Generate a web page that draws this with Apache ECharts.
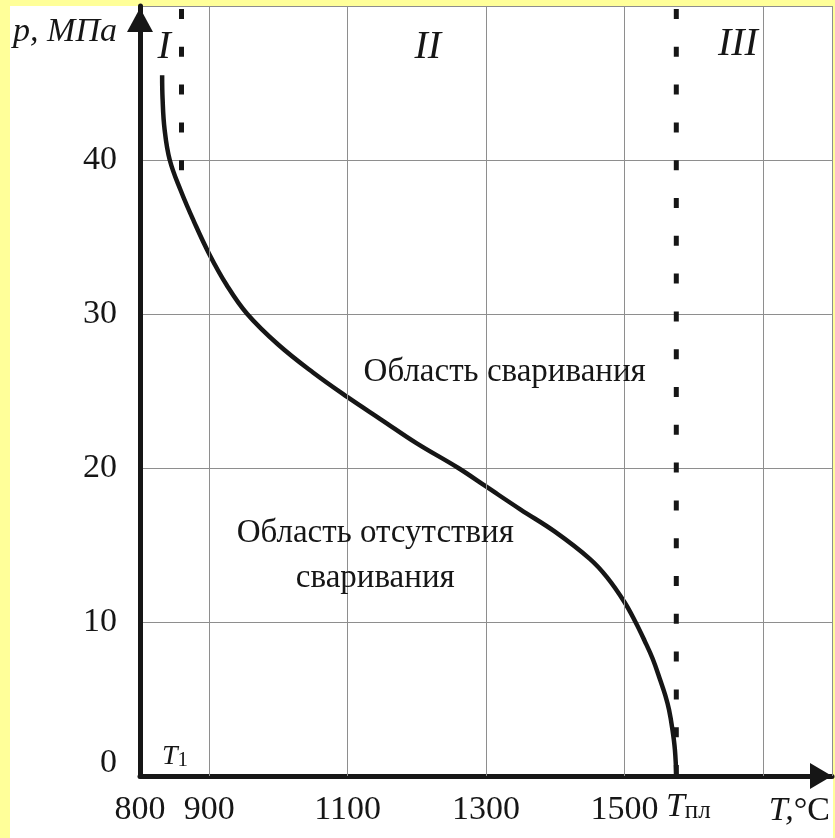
<!DOCTYPE html>
<html>
<head>
<meta charset="utf-8">
<script src="https://cdn.jsdelivr.net/npm/echarts@6/dist/echarts.min.js"></script>
<style>
  html, body { margin: 0; padding: 0; background: #ffff99; }
  #chart { width: 835px; height: 838px; }
</style>
</head>
<body>
<div id="chart"></div>
<script>
// Boundary between the bonding and non-bonding regions: temperature T (°C) vs pressure p (MPa)
const curveT = [832, 832.6, 835.5, 843, 859, 878, 900, 925, 955, 1000, 1050, 1100, 1150, 1200, 1260, 1300, 1350, 1400, 1450, 1475, 1500, 1516, 1529, 1541, 1552, 1559, 1564.5, 1569.5, 1573, 1575];
const curveP = [45.5, 44, 42, 40, 38, 36, 33.9, 31.9, 30, 28, 26.2, 24.6, 23.1, 21.6, 20, 18.8, 17.3, 15.85, 14.1, 12.9, 11.3, 10, 8.8, 7.6, 6.2, 5.25, 4.3, 3.0, 1.7, 0];

// Characteristic temperatures: lower limit T1 and melting point Tпл
const T1 = 860;
const Tmelt = 1575;
const T1LineP = [50, 38.9];
const TmeltLineP = [50, 0];

// Axis ranges and ticks
const xMin = 800, xMax = 1800;
const yMin = 0, yMax = 50, yStep = 10;
const xLabelValues = [800, 900, 1100, 1300, 1500];
const xGridValues = [900, 1100, 1300, 1500, 1700, 1800];

// Zone numerals and region captions (anchored in data units)
const zoneNames = ['I', 'II', 'III'];
const zoneT = [835, 1216, 1664];
const zoneP = [47.3, 47.3, 47.5];
const captionBond = 'Область сваривания';
const captionNoBond = 'Область отсутствия\nсваривания';
const captionBondAt = [1327, 26.2];
const captionNoBondAt = [1140, 14.3];
const T1LabelAt = [850.6, 1.23];

const serif = '"Liberation Serif", "Times New Roman", serif';
const ink = '#161616';
const gridGray = '#8e8e8e';

const chart = echarts.init(document.getElementById('chart'), null, { renderer: 'canvas' });

const curveData = curveT.map((t, i) => [t, curveP[i]]);

const option = {
  backgroundColor: '#ffff99',
  animation: false,
  graphic: [{
    type: 'rect',
    z: -10,
    shape: { x: 10, y: 6, width: 823, height: 832 },
    style: { fill: '#ffffff' },
    silent: true
  }],
  grid: { left: 140, right: 3, top: 6, bottom: 62, containLabel: false },
  xAxis: {
    type: 'value',
    min: xMin, max: xMax, interval: 100,
    name: '{i|T,}{n|°C}',
    nameLocation: 'end',
    nameGap: -2,
    nameTextStyle: {
      align: 'right', verticalAlign: 'top', padding: [18, 0, 0, 0],
      rich: {
        i: { fontFamily: serif, fontStyle: 'italic', fontSize: 34, color: ink },
        n: { fontFamily: serif, fontSize: 34, color: ink }
      }
    },
    axisLine: {
      show: true, onZero: false,
      lineStyle: { color: ink, width: 5 },
      symbol: ['none', 'triangle'], symbolSize: [26, 22], symbolOffset: [0, -11]
    },
    axisTick: { show: false },
    splitLine: { show: false },
    axisLabel: {
      margin: 17,
      fontFamily: serif, fontSize: 34, color: ink,
      formatter: v => (xLabelValues.includes(v) ? String(v) : '')
    }
  },
  yAxis: {
    type: 'value',
    min: yMin, max: yMax, interval: yStep,
    name: 'p, МПа',
    nameLocation: 'end',
    nameGap: -26,
    nameTextStyle: {
      align: 'right', verticalAlign: 'middle', padding: [0, 23, 0, 0],
      fontFamily: serif, fontStyle: 'italic', fontSize: 34, color: ink
    },
    axisLine: {
      show: true, onZero: false,
      lineStyle: { color: ink, width: 5 },
      symbol: ['none', 'triangle'], symbolSize: [26, 24], symbolOffset: [0, -14]
    },
    axisTick: { show: false },
    splitLine: { show: true, lineStyle: { color: gridGray, width: 1 } },
    axisLabel: {
      margin: 23,
      showMaxLabel: false,
      fontFamily: serif, fontSize: 34, color: ink,
      formatter: v => (v === 0 ? '{z|0}' : String(v)),
      rich: { z: { fontFamily: serif, fontSize: 34, color: ink, padding: [0, 0, 26, 0] } }
    }
  },
  series: [
    {
      // vertical grid lines
      name: 'grid',
      type: 'line',
      data: [],
      silent: true,
      markLine: {
        silent: true,
        symbol: ['none', 'none'],
        label: { show: false },
        lineStyle: { color: gridGray, width: 1, type: 'solid' },
        data: xGridValues.map(v => ({ xAxis: v }))
      },
      z: 1
    },
    {
      name: 'T1',
      type: 'line',
      data: T1LineP.map(p => [T1, p]),
      showSymbol: false,
      silent: true,
      lineStyle: { color: ink, width: 5, type: [10, 27.8], dashOffset: 34.8, cap: 'butt' },
      z: 3
    },
    {
      name: 'Tmelt',
      type: 'line',
      data: TmeltLineP.map(p => [Tmelt, p]),
      showSymbol: false,
      silent: true,
      lineStyle: { color: ink, width: 5, type: [10, 27.8], dashOffset: 34.8, cap: 'butt' },
      z: 3
    },
    {
      name: 'boundary',
      type: 'line',
      data: curveData,
      smooth: 0.4,
      showSymbol: false,
      silent: true,
      lineStyle: { color: ink, width: 4.5 },
      z: 4
    },
    {
      name: 'annotations',
      type: 'scatter',
      symbolSize: 0,
      silent: true,
      z: 5,
      itemStyle: { opacity: 1 },
      label: { show: true, position: 'inside', color: ink, fontFamily: serif },
      data: [
        ...zoneNames.map((n, i) => ({
          value: [zoneT[i], zoneP[i]],
          label: { formatter: n, fontStyle: 'italic', fontSize: 40 }
        })),
        {
          value: captionBondAt,
          label: { formatter: captionBond, fontSize: 33 }
        },
        {
          value: captionNoBondAt,
          label: { formatter: captionNoBond, fontSize: 33, lineHeight: 45, align: 'center' }
        },
        {
          value: T1LabelAt,
          label: {
            formatter: '{i|T}{s|1}',
            rich: {
              i: { fontFamily: serif, fontStyle: 'italic', fontSize: 28, color: ink },
              s: { fontFamily: serif, fontSize: 21, color: ink, verticalAlign: 'bottom' }
            }
          }
        },
        {
          value: [Tmelt, 0],
          label: {
            position: 'bottom', distance: 14, offset: [12, 0],
            formatter: '{i|T}{s|пл}',
            rich: {
              i: { fontFamily: serif, fontStyle: 'italic', fontSize: 34, color: ink },
              s: { fontFamily: serif, fontSize: 25, color: ink, verticalAlign: 'bottom' }
            }
          }
        }
      ]
    }
  ]
};

chart.setOption(option);
</script>
</body>
</html>
